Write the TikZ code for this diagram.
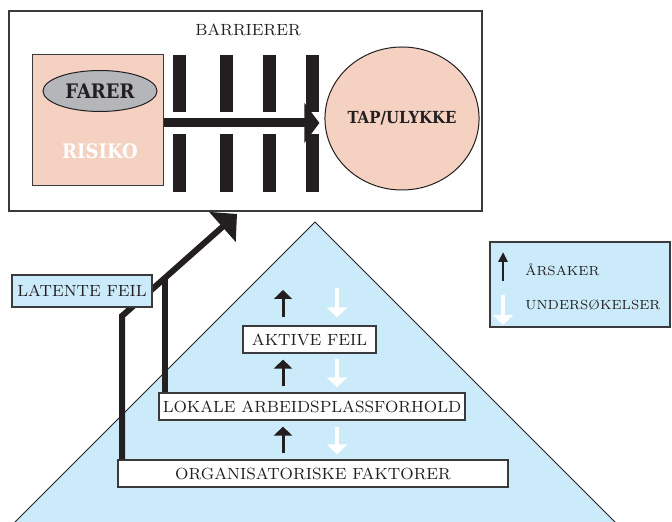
\documentclass[tikz,border=0pt]{standalone}
\usepackage{fontspec}
\newfontfamily\slabfont{DejaVu Serif Condensed}
\usetikzlibrary{arrows.meta, calc, shapes.geometric}
\definecolor{ink}{HTML}{231F20}
\definecolor{rim}{HTML}{3A3A3C}
\definecolor{peach}{HTML}{F5D1C2}
\definecolor{hazard}{HTML}{B5B6B9}
\definecolor{sky}{HTML}{CCEBFA}

\begin{document}
\begin{tikzpicture}[x=0.5pt, y=-0.5pt,
        lbl/.style={font=\fontsize{8.1}{10}\selectfont, text=ink},
        keylbl/.style={font=\fontsize{6.6}{8}\selectfont, text=ink, anchor=west, inner sep=0pt},
        box/.style={draw=rim, line width=0.6pt, fill=white, inner sep=0pt, minimum height=13.5pt, lbl},
        heavy/.style={font=\slabfont\bfseries\fontsize{10}{12}\selectfont, inner sep=0pt},
        bar/.style={fill=ink},
        feed/.style={ink, line width=3pt, line join=miter},
        cause/.style={-{Triangle[length=4.5pt,width=9pt]}, ink, line width=1.5pt},
        probe/.style={-{Triangle[length=5pt,width=10pt]}, white, line width=1.8pt}]

    \useasboundingbox (0,0) rectangle (672,522);

    % barrier frame
    \node[draw=rim, line width=0.7pt, minimum width=236.5pt, minimum height=100pt] (frame) at (245.5,111) {};
    \node[lbl] (barr) at (248,30) {BARRIERER};
    \node[draw=rim, line width=0.5pt, fill=peach, minimum size=65.5pt] (risiko) at (97.5,120.5) {};
    \node[ellipse, draw=ink, line width=0.5pt, fill=hazard, minimum width=57pt, minimum height=20.5pt, heavy, text=ink] (farer) at (100,91) {FARER};
    \node[heavy, text=white] (risk) at (100,151) {RISIKO};
    \node[ellipse, draw=ink, line width=0.5pt, fill=peach, minimum width=60pt, minimum height=71.5pt, heavy, font=\slabfont\bfseries\fontsize{8.3}{10}\selectfont, text=ink] (tap) at (402,118.5) {TAP/ULYKKE};
    \foreach \bx in {179.5,226,269.5,312.5} {
        \fill[bar] (\bx-6.5,55) rectangle (\bx+6.5,112);
        \fill[bar] (\bx-6.5,134) rectangle (\bx+6.5,192);
    }
    \draw[ink, line width=4.5pt, -{Triangle[length=7.5pt,width=19.5pt]}, shorten >=2.5pt]
        ([yshift=-1.25pt]risiko.east) -- ([yshift=-1.25pt]risiko.east -| tap.west);

    % pyramid
    \fill[sky] (12,525) -- (315,222) -- (618,525) -- cycle;
    \draw[ink, line width=0.5pt] (12,525) -- (315,222) -- (618,525);
    \node[box, minimum width=66.5pt] (aktive) at (309.5,339.5) {AKTIVE FEIL};
    \node[box, minimum width=153pt] (lokale) at (312,406.5) {LOKALE ARBEIDSPLASSFORHOLD};
    \node[box, minimum width=195pt] (org) at (313,473.5) {ORGANISATORISKE FAKTORER};

    % latent paths
    \coordinate (bend) at (122,316);
    \coordinate (tip) at (237,214);
    \coordinate (join) at ($(bend)!0.374!(tip)$);
    \draw[feed, -{Triangle[length=9.75pt,width=19.5pt]}] (org.north -| bend) -- (bend) -- (tip);
    \draw[feed] (lokale.north -| join) -- (join);
    \node[box, fill=sky, minimum width=70pt, minimum height=16pt] (latent) at (82,291) {LATENTE FEIL};

    \coordinate (upx) at (283,290);
    \coordinate (downx) at (337,288);
    \draw[cause] ([yshift=4pt]aktive.north -| upx) -- (upx);
    \draw[cause] ([yshift=3pt]lokale.north -| upx) -- ([yshift=-3pt]aktive.south -| upx);
    \draw[cause] ([yshift=3pt]org.north -| upx) -- ([yshift=-3pt]lokale.south -| upx);
    \draw[probe] (downx) -- ([yshift=4pt]aktive.north -| downx);
    \draw[probe] ([yshift=-2.5pt]aktive.south -| downx) -- ([yshift=2.5pt]lokale.north -| downx);
    \draw[probe] ([yshift=-3pt]lokale.south -| downx) -- ([yshift=2.5pt]org.north -| downx);

    % legend
    \node[draw=rim, line width=0.8pt, fill=sky, minimum width=90pt, minimum height=42.5pt] (legend) at (580,284.5) {};
    \node[keylbl] (aarsak) at (525,270) {ÅRSAKER};
    \node[keylbl] (unders) at (525,305) {UNDERSØKELSER};
    \coordinate (keyup) at (503,281);
    \coordinate (keydown) at (503,295);
    \draw[ink, line width=1.3pt, -{Triangle[length=5pt,width=4.5pt]}] (keyup) -- ++(0,-29);
    \draw[probe] (keydown) -- ++(0,30);
\end{tikzpicture}
\end{document}
